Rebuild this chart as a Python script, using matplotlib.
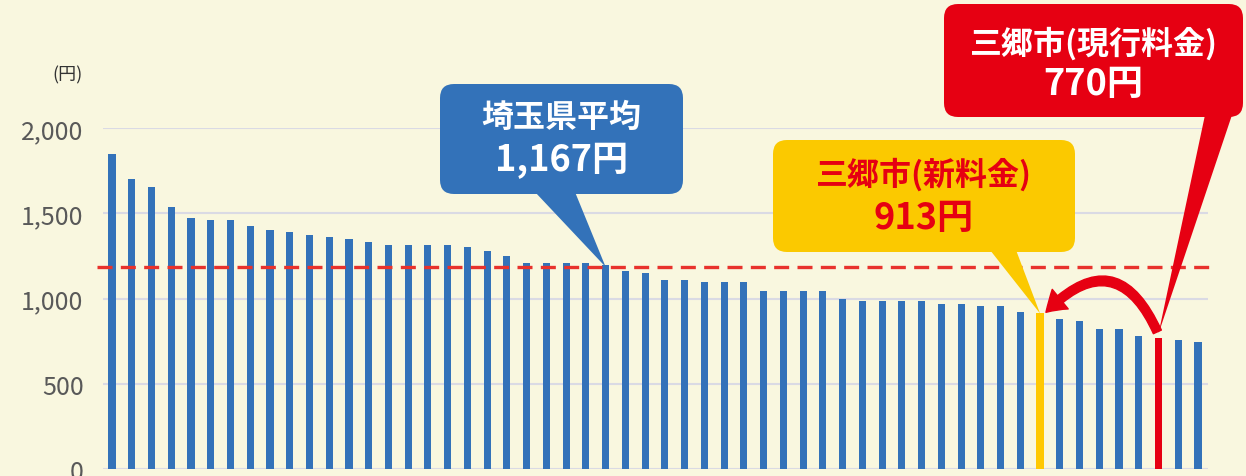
# -*- coding: utf-8 -*-
import matplotlib
matplotlib.use("Agg")
from matplotlib import pyplot as plt
from matplotlib.patches import FancyBboxPatch, Polygon, FancyArrowPatch

plt.rcParams['font.family'] = ['Noto Sans CJK JP', 'DejaVu Sans']

# 料金データ（円）
fees = [1850, 1703, 1658, 1537, 1472, 1460, 1460, 1427, 1403, 1393,
        1372, 1360, 1351, 1333, 1317, 1317, 1317, 1317, 1306, 1278,
        1249, 1208, 1208, 1208, 1208, 1196, 1163, 1151, 1110, 1110,
        1098, 1098, 1098, 1043, 1043, 1043, 1043, 996, 987, 987,
        987, 987, 969, 969, 959, 959, 922, 913, 879, 867,
        822, 822, 783, 770, 756, 746]
new_idx = 47      # 三郷市（新料金）
cur_idx = 53      # 三郷市（現行料金）
avg_idx = 25
avg_line = 1186   # 破線の位置
avg_label = ['埼玉県平均', '1,167円']
new_label = ['三郷市(新料金)', '913円']
cur_label = ['三郷市(現行料金)', '770円']
yticks = [0, 500, 1000, 1500, 2000]
ytick_labels = ['0', '500', '1,000', '1,500', '2,000']

W, H = 1246, 477
BLUE = '#3372b9'
YELLOW = '#fbc900'
RED = '#e60012'

fig = plt.figure(figsize=(W / 100, H / 100), dpi=100)
fig.patch.set_facecolor('#f9f7df')

ax = fig.add_axes([103 / W, 7 / H, 1105 / W, 340.7 / H])
ax.set_facecolor('none')

colors = [BLUE] * len(fees)
colors[new_idx] = '#ffc800'
colors[cur_idx] = RED
ax.bar(range(len(fees)), fees, width=0.36, color=colors, zorder=3)

ax.set_xlim(-0.456, len(fees) - 1 + 0.506)
ax.set_ylim(0, 2000)
ax.set_yticks(yticks)
ax.set_yticklabels(ytick_labels, color='#595959', fontsize=18)
ax.tick_params(axis='y', length=0, pad=14)
ax.set_xticks([])
ax.grid(axis='y', color='#dadae4', linewidth=1.5, zorder=0)
for s in ax.spines.values():
    s.set_visible(False)

# 平均線
ax.plot([-0.75, len(fees) - 1 + 0.9], [avg_line, avg_line], color='#e8322c',
        linewidth=2.4, dashes=(4.5, 2.5), clip_on=False, zorder=4)

fig.text(68 / W, 1 - 75 / H, '(円)', fontsize=13, color='#333333',
         ha='center', va='center')


def px(x, y):
    return (x / W, 1 - y / H)


def data_to_fig(x, y):
    return fig.transFigure.inverted().transform(ax.transData.transform((x, y)))


def callout(x0, y0, x1, y1, color, tail_base, tip, lines, tcolor, pos=(0.30, 0.69)):
    box = FancyBboxPatch(px(x0, y1), (x1 - x0) / W, (y1 - y0) / H,
                         boxstyle='round,pad=0,rounding_size=%f' % (14 / W),
                         mutation_aspect=W / H, transform=fig.transFigure,
                         facecolor=color, edgecolor='none', zorder=10)
    fig.add_artist(box)
    tri = Polygon([px(tail_base[0], y1 - 2), px(tail_base[1], y1 - 2), tip],
                  closed=True, transform=fig.transFigure,
                  facecolor=color, edgecolor='none', zorder=10)
    fig.add_artist(tri)
    cx = (x0 + x1) / 2
    h = y1 - y0
    fig.text(*px(cx, y0 + h * pos[0]), lines[0], fontsize=23, fontweight='bold',
             color=tcolor, ha='center', va='center', zorder=11)
    fig.text(*px(cx, y0 + h * pos[1]), lines[1], fontsize=26, fontweight='bold',
             color=tcolor, ha='center', va='center', zorder=11)


callout(440, 85, 683, 195, BLUE, (535, 575),
        data_to_fig(avg_idx, avg_line), avg_label, 'white')
callout(773, 141, 1075, 253, YELLOW, (990, 1016),
        data_to_fig(new_idx, fees[new_idx]), new_label, RED)
callout(944, 5, 1243, 118, RED, (1205, 1232),
        data_to_fig(cur_idx, fees[cur_idx] + 25), cur_label, 'white', pos=(0.34, 0.70))

# 現行料金 → 新料金 の矢印
arrow = FancyArrowPatch((cur_idx, fees[cur_idx] + 20), (new_idx + 0.2, fees[new_idx] - 5),
                        connectionstyle='arc3,rad=0.75',
                        arrowstyle='simple,head_width=1.3,head_length=1.0,tail_width=0.45',
                        mutation_scale=14, color=RED, zorder=6, clip_on=False)
ax.add_patch(arrow)

plt.savefig('out.png', dpi=100, facecolor=fig.get_facecolor())
